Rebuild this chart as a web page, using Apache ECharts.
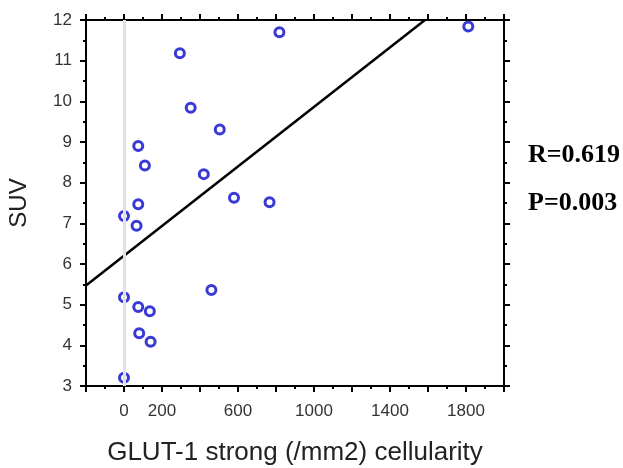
<!DOCTYPE html>
<html>
<head>
<meta charset="utf-8">
<script src="https://cdn.jsdelivr.net/npm/echarts@6/dist/echarts.min.js"></script>
<style>
html,body{margin:0;padding:0;background:#fff;}
#main{width:623px;height:468px;}
</style>
</head>
<body>
<div id="main"></div>
<script>
// GLUT-1 strong cellularity (/mm2) vs SUV
var glutX = [818, 294, 351, 504, 75, 110, 420, 579, 766, 75, 0, 66, 0, 75, 136, 80, 140, 460, 0, 1812];
var suvY  = [11.70, 11.18, 9.84, 9.31, 8.90, 8.42, 8.21, 7.63, 7.52, 7.47, 7.18, 6.94, 5.18, 4.94, 4.84, 4.30, 4.09, 5.36, 3.20, 11.84];
// regression line endpoints
var fitX = [-200, 1584];
var fitY = [5.47, 12];
var xTickLabels = [0, 200, 600, 1000, 1400, 1800];
var yTickLabels = [3, 4, 5, 6, 7, 8, 9, 10, 11, 12];
var statR = 'R=0.619';
var statP = 'P=0.003';

var points = glutX.map(function (x, i) { return [x, suvY[i]]; });
var fit = fitX.map(function (x, i) { return [x, fitY[i]]; });

var chart = echarts.init(document.getElementById('main'), null, {renderer: 'canvas'});
var axisLine = {show: true, onZero: false, lineStyle: {color: '#000', width: 2}};
var axisTick = {show: true, length: 6, lineStyle: {color: '#000', width: 2}};
var minorTick = {show: true, splitNumber: 2, length: 3, lineStyle: {color: '#000', width: 2}};
var labelStyle = {color: '#333', fontFamily: 'Liberation Sans', fontSize: 17};

chart.setOption({
  animation: false,
  backgroundColor: '#fff',
  grid: {left: 86, right: 119, top: 20, bottom: 82, containLabel: false, outerBoundsMode: 'none'},
  xAxis: [{
    type: 'value', position: 'bottom', min: -200, max: 2000, interval: 200,
    name: 'GLUT-1 strong (/mm2) cellularity', nameLocation: 'middle', nameGap: 54,
    nameTextStyle: {color: '#222', fontFamily: 'Liberation Sans', fontSize: 26},
    axisLine: axisLine, axisTick: axisTick, minorTick: minorTick,
    splitLine: {show: false}, minorSplitLine: {show: false},
    axisLabel: Object.assign({margin: 17, formatter: function (v) {
      return xTickLabels.indexOf(v) >= 0 ? String(v) : '';
    }}, labelStyle)
  }, {
    type: 'value', position: 'top', min: -200, max: 2000, interval: 200,
    axisLine: axisLine, axisTick: axisTick, minorTick: minorTick,
    splitLine: {show: false}, axisLabel: {show: false}
  }],
  yAxis: [{
    type: 'value', position: 'left', min: 3, max: 12, interval: 1,
    name: 'SUV', nameLocation: 'middle', nameGap: 55, nameRotate: 90,
    nameTextStyle: {color: '#222', fontFamily: 'Liberation Sans', fontSize: 24},
    axisLine: axisLine, axisTick: axisTick, minorTick: minorTick,
    splitLine: {show: false}, minorSplitLine: {show: false},
    axisLabel: Object.assign({margin: 14, formatter: function (v) {
      return yTickLabels.indexOf(v) >= 0 ? String(v) : '';
    }}, labelStyle)
  }, {
    type: 'value', position: 'right', min: 3, max: 12, interval: 1,
    axisLine: axisLine, axisTick: axisTick, minorTick: minorTick,
    splitLine: {show: false}, axisLabel: {show: false}
  }],
  series: [{
    type: 'line', data: fit, xAxisIndex: 0, yAxisIndex: 0,
    showSymbol: false, symbol: 'none', silent: true,
    lineStyle: {color: '#000', width: 2.5},
    markLine: {
      silent: true, symbol: 'none', label: {show: false},
      lineStyle: {color: '#e2e2e2', width: 3, type: 'solid'},
      data: [{xAxis: 0}]
    },
    z: 2
  }, {
    type: 'scatter', data: points, xAxisIndex: 0, yAxisIndex: 0,
    symbol: 'circle', symbolSize: 9,
    itemStyle: {color: 'rgba(255,255,255,0)', borderColor: '#0808cc', borderWidth: 3},
    z: 3
  }],
  graphic: [{
    type: 'text', left: 528, top: 142,
    style: {text: statR, font: 'bold 26px "Liberation Serif"', fill: '#000'}
  }, {
    type: 'text', left: 528, top: 190,
    style: {text: statP, font: 'bold 26px "Liberation Serif"', fill: '#000'}
  }]
});
</script>
</body>
</html>
